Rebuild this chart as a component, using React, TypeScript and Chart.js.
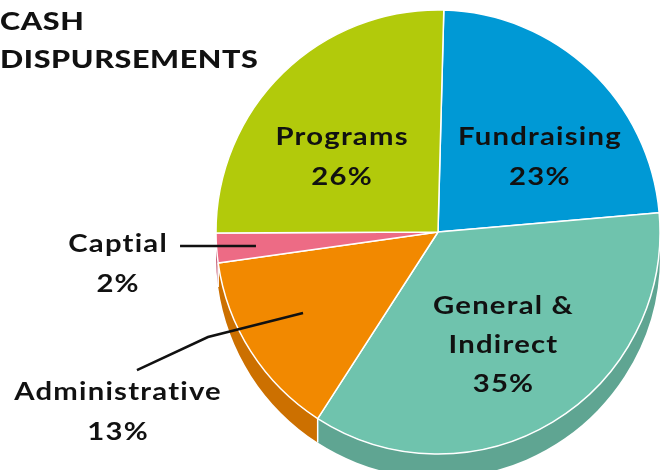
import React, { useEffect, useRef } from "react";
import { Chart, registerables } from "chart.js";

Chart.register(...registerables);

// ---- data ----
const categories = ["Fundraising", "General & Indirect", "Administrative", "Captial", "Programs"];
const shares = [23.2, 35.5, 13.65, 2.17, 25.48];
const percentLabels = ["23%", "35%", "13%", "2%", "26%"];
const titleLines = ["CASH", "DISPURSEMENTS"];

// ---- styles ----
const topColors = ["#0099d5", "#6fc3ad", "#f28900", "#ed6b85", "#b2ca0b"];
const sideColors = ["#0078a8", "#5fa592", "#cc7000", "#c2526b", "#8fa308"];
const DEPTH = 24;

// label layout, in units of the pie radius relative to the pie centre
const labelLayout: any[] = [
  { lines: ["Fundraising", percentLabels[0]], at: [0.459, -0.34] },
  { lines: ["General &", "Indirect", percentLabels[1]], at: [0.295, 0.505], lh: 39 },
  { lines: ["Administrative", percentLabels[2]], at: [-1.441, 0.809], leader: [[-1.356, 0.622], [-1.036, 0.473], [-0.608, 0.365]] },
  { lines: ["Captial", percentLabels[3]], at: [-1.441, 0.144], leader: [[-1.162, 0.063], [-0.82, 0.063]] },
  { lines: ["Programs", percentLabels[4]], at: [-0.432, -0.34] },
];

const LABEL_FONT = "700 24px Lato";
const TITLE_FONT = "900 25px Lato";
const H_STRETCH = 1.22;

function drawText(ctx: CanvasRenderingContext2D, t: string, x: number, y: number, align: CanvasTextAlign, ls: string) {
  ctx.save();
  ctx.translate(x, y);
  ctx.scale(H_STRETCH, 1);
  (ctx as any).letterSpacing = ls;
  ctx.textAlign = align;
  ctx.textBaseline = "alphabetic";
  ctx.fillText(t, 0, 0);
  ctx.restore();
}

const sidePlugin = {
  id: "side3d",
  beforeDatasetsDraw(chart: any) {
    const ctx = chart.ctx as CanvasRenderingContext2D;
    const meta = chart.getDatasetMeta(0);
    ctx.save();
    meta.data.forEach((arc: any, i: number) => {
      const { x, y, startAngle, endAngle, outerRadius } = arc.getProps(["x", "y", "startAngle", "endAngle", "outerRadius"], true);
      const r = outerRadius;
      for (let k = -1; k <= 1; k++) {
        const lo = Math.max(startAngle, 2 * Math.PI * k);
        const hi = Math.min(endAngle, Math.PI + 2 * Math.PI * k);
        if (hi > lo) {
          ctx.beginPath();
          ctx.arc(x, y, r, lo, hi);
          ctx.arc(x, y + DEPTH, r, hi, lo, true);
          ctx.closePath();
          ctx.fillStyle = sideColors[i];
          ctx.fill();
        }
      }
    });
    // white separators on the side
    meta.data.forEach((arc: any) => {
      const { x, y, startAngle, outerRadius } = arc.getProps(["x", "y", "startAngle", "outerRadius"], true);
      let a = startAngle % (2 * Math.PI);
      if (a < 0) a += 2 * Math.PI;
      if (a > 0.05 && a < Math.PI - 0.05) {
        const px = x + outerRadius * Math.cos(a);
        const py = y + outerRadius * Math.sin(a);
        ctx.beginPath();
        ctx.moveTo(px, py);
        ctx.lineTo(px, py + DEPTH);
        ctx.strokeStyle = "#ffffff";
        ctx.lineWidth = 1.5;
        ctx.stroke();
      }
    });
    ctx.restore();
  },
};

const labelPlugin = {
  id: "pieLabels",
  afterDatasetsDraw(chart: any) {
    const ctx = chart.ctx as CanvasRenderingContext2D;
    const meta = chart.getDatasetMeta(0);
    const arc0 = meta.data[0];
    const { x: cx, y: cy, outerRadius: r } = arc0.getProps(["x", "y", "outerRadius"], true);
    ctx.save();
    ctx.fillStyle = "#111111";
    ctx.font = LABEL_FONT;
    const capH = 17;
    labelLayout.forEach((lab) => {
      const lh = lab.lh || 40;
      const bx = cx + lab.at[0] * r;
      const by = cy + lab.at[1] * r;
      const n = lab.lines.length;
      lab.lines.forEach((t: string, i: number) => {
        const base = by - ((n - 1) * lh) / 2 + capH / 2 + i * lh;
        drawText(ctx, t, bx, base, "center", "1px");
      });
      if (lab.leader) {
        ctx.beginPath();
        lab.leader.forEach((p: number[], j: number) => {
          const px = cx + p[0] * r;
          const py = cy + p[1] * r;
          if (j === 0) ctx.moveTo(px, py);
          else ctx.lineTo(px, py);
        });
        ctx.strokeStyle = "#111111";
        ctx.lineWidth = 2.5;
        ctx.stroke();
      }
    });
    // title
    ctx.font = TITLE_FONT;
    titleLines.forEach((t, i) => {
      drawText(ctx, t, 0, 30 + i * 38, "left", "0.5px");
    });
    ctx.restore();
  },
};

export default function App() {
  const ref = useRef<HTMLCanvasElement | null>(null);
  useEffect(() => {
    document.body.style.margin = "0";
    const chart = new Chart(ref.current as HTMLCanvasElement, {
      type: "pie",
      data: {
        labels: categories,
        datasets: [
          {
            data: shares,
            backgroundColor: topColors,
            borderColor: "#ffffff",
            borderWidth: 1.5,
          },
        ],
      },
      options: {
        animation: false,
        responsive: false,
        rotation: 1.5,
        radius: 222,
        layout: { padding: { left: 216, right: 1, top: 10, bottom: 16 } },
        plugins: { legend: { display: false }, tooltip: { enabled: false } },
      } as any,
      plugins: [sidePlugin, labelPlugin],
    });
    return () => chart.destroy();
  }, []);
  return (
    <div style={{ position: "absolute", left: 0, top: 0, width: 661, height: 470 }}>
      <canvas ref={ref} width={661} height={470} style={{ display: "block" }} />
    </div>
  );
}
